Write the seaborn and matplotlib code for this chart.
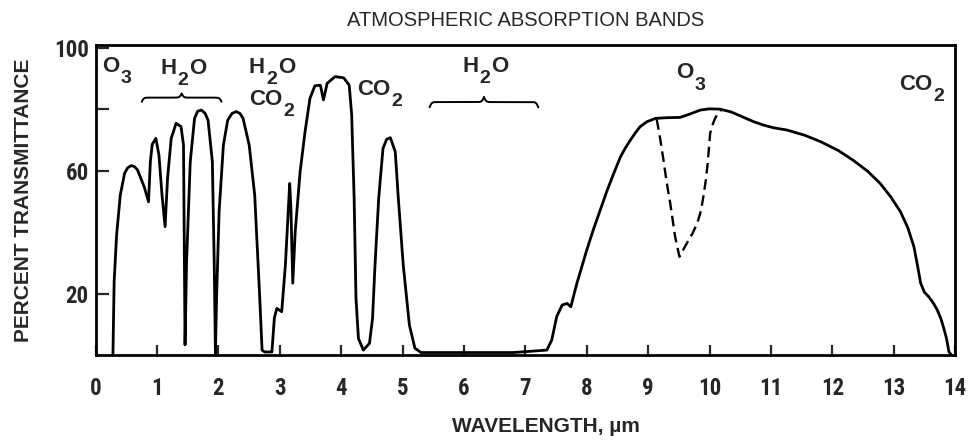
import numpy as np
import matplotlib
matplotlib.use("Agg")
import matplotlib.pyplot as plt
import matplotlib.font_manager as fm
import seaborn as sns

# Atmospheric transmittance spectrum (wavelength in micrometres, percent transmittance)
wavelength_um = [
    0.28, 0.30, 0.34, 0.40, 0.47, 0.52, 0.575, 0.63, 0.68, 0.79, 0.86,
    0.89, 0.92, 0.98, 1.03, 1.08, 1.13,
    1.17, 1.23, 1.31, 1.39, 1.43, 1.44, 1.455,
    1.48, 1.54, 1.61, 1.66, 1.72, 1.78, 1.83, 1.90, 1.93, 1.95,
    1.97, 2.01, 2.08, 2.15, 2.22, 2.29, 2.35, 2.40, 2.50, 2.59, 2.67, 2.71,
    2.75, 2.87, 2.91, 2.95, 3.03, 3.09, 3.16, 3.18, 3.21, 3.25, 3.33, 3.41,
    3.49, 3.57, 3.66, 3.71, 3.77, 3.90, 4.04, 4.13, 4.17, 4.21, 4.24, 4.28,
    4.36, 4.46, 4.51, 4.55, 4.61, 4.68, 4.74, 4.80, 4.88, 4.93, 5.01, 5.11, 5.20,
    5.30, 6.00, 6.80, 7.35, 7.43, 7.51, 7.60, 7.68, 7.74, 7.84, 8.00, 8.11,
    8.22, 8.33, 8.44, 8.55, 8.63, 8.71, 8.80, 8.87, 8.98, 9.12, 9.30, 9.52,
    9.68, 9.85, 10.00, 10.17, 10.35, 10.56, 10.72, 10.88, 11.05, 11.26, 11.55,
    11.81, 12.10, 12.35, 12.58, 12.78, 12.95, 13.11, 13.23, 13.33, 13.39,
    13.44, 13.50, 13.57, 13.65, 13.71, 13.77, 13.81, 13.86, 13.90, 13.94,
]
transmittance_pct = [
    0.0, 23.9, 39.1, 52.1, 59.2, 61.0, 61.7, 61.4, 60.3, 54.8, 49.9,
    63.0, 68.6, 70.6, 65.1, 52.1, 41.8,
    57.6, 70.6, 75.5, 74.4, 68.4, 41.3, 3.3,
    30.4, 63.0, 77.1, 79.4, 79.8, 78.8, 76.5, 63.0, 30.4, 0.5,
    19.5, 46.7, 68.4, 76.5, 78.7, 79.3, 78.7, 77.1, 68.4, 52.1, 19.5, 1.6,
    1.0, 1.0, 12.0, 15.2, 14.1, 29.3, 55.9, 47.8, 23.4, 40.2, 59.7, 72.7,
    83.6, 87.7, 87.9, 83.1, 88.5, 90.7, 90.3, 87.9, 78.2, 51.0, 18.5, 5.4,
    1.6, 3.8, 12.0, 29.3, 51.0, 67.3, 70.3, 70.8, 66.2, 51.0, 29.3, 9.8, 2.2,
    0.8, 0.8, 0.8, 1.6, 4.9, 12.5, 16.3, 16.8, 15.7, 23.4, 34.2, 41.0,
    47.2, 53.5, 59.2, 64.6, 67.5, 70.0, 72.6, 74.4, 76.0, 77.1, 77.3, 77.4,
    78.5, 79.8, 80.2, 80.1, 79.2, 77.4, 76.0, 74.9, 74.0, 73.3, 71.6,
    69.5, 66.6, 63.3, 59.8, 55.9, 51.6, 46.7, 41.5, 35.3, 29.0,
    23.4, 20.5, 19.0, 16.8, 14.7, 11.8, 9.2, 5.5, 1.1, 0.0,
]

# Ozone absorption near 9.6 um (dashed)
ozone_wavelength_um = [9.14, 9.20, 9.25, 9.30, 9.36, 9.44, 9.51, 9.57, 9.63, 9.72,
                       9.80, 9.86, 9.90, 9.94, 9.97, 10.01, 10.05, 10.09, 10.14, 10.20]
ozone_transmittance_pct = [76.8, 70.0, 63.5, 56.5, 49.4, 38.5, 32.0, 34.2, 36.4, 39.5,
                           42.9, 47.0, 51.6, 57.0, 62.4, 72.2, 75.0, 77.1, 78.8, 80.0]

# Absorber labels (digits are set as subscripts)
band_labels = ["O3", "H2O", "H2O", "CO2", "CO2", "H2O", "O3", "CO2"]
band_label_x = [0.34, 1.43, 2.87, 2.86, 4.62, 6.35, 9.70, 13.46]
band_label_y = [92.2, 91.7, 92.0, 81.4, 84.7, 92.3, 90.1, 86.3]

# Water-vapour bands marked with braces: (start, end) in um
water_band_start = [0.75, 5.44]
water_band_end = [2.05, 7.21]
water_brace_base = [82.5, 80.7]
water_brace_tip = [85.2, 84.1]

x_ticks = list(range(0, 15))
y_ticks = [20, 60, 80, 100]
y_tick_labels = ["20", "60", "", "100"]

sns.set_style("white")
available = {f.name for f in fm.fontManager.ttflist}
narrow = next((f for f in ["Liberation Sans Narrow", "Roboto Condensed"] if f in available),
              "Liberation Sans")
plt.rcParams["font.family"] = ["Liberation Sans", "DejaVu Sans"]
plt.rcParams["font.weight"] = "bold"

fig = plt.figure(figsize=(9.68, 4.41), dpi=100)
ax = fig.add_axes([0.0989, 0.195, 0.8877, 0.703])

sns.lineplot(x=wavelength_um, y=transmittance_pct, sort=False, estimator=None,
             color="black", linewidth=2.0, ax=ax)
sns.lineplot(x=ozone_wavelength_um, y=ozone_transmittance_pct, sort=False, estimator=None,
             color="black", linewidth=1.7, ax=ax)
ax.lines[-1].set_linestyle((0, (4.5, 2.4)))

ax.set_xlim(0, 14)
ax.set_ylim(0, 101)

for sp in ax.spines.values():
    sp.set_visible(True)
    sp.set_linewidth(2.0)
    sp.set_color("black")

ax.set_xticks(x_ticks)
ax.set_xticklabels([str(t) for t in x_ticks])
ax.set_yticks(y_ticks)
ax.set_yticklabels(y_tick_labels)
ax.tick_params(axis="x", direction="in", length=7.5, width=1.6, pad=16,
               labelsize=16.5, bottom=True, top=False)
ax.tick_params(axis="y", direction="in", length=9.5, width=1.6, pad=5,
               labelsize=16.5, left=True, right=False)
for lbl in ax.get_xticklabels() + ax.get_yticklabels():
    lbl.set_family([narrow, "DejaVu Sans"])
    lbl.set_fontweight("bold")

ax.set_xlabel("WAVELENGTH, µm", fontsize=15, fontweight="bold")
ax.xaxis.set_label_coords(0.524, -0.199)
ax.set_ylabel("PERCENT TRANSMITTANCE", fontsize=15, fontweight="bold")
ax.yaxis.set_label_coords(-0.0726, 0.5)

ax.set_title("ATMOSPHERIC ABSORPTION BANDS", fontsize=14.5, fontweight="normal",
             pad=14)


def chem_label(ax, x, y, formula, size=16, sub_size=14, sub_drop=8.0, gap=0.8):
    """Write a chemical formula centred at (x, y) with digits lowered as subscripts."""
    renderer = ax.figure.canvas.get_renderer()
    parts = []
    for ch in formula:
        is_sub = ch.isdigit()
        if parts and parts[-1][1] == is_sub:
            parts[-1] = (parts[-1][0] + ch, is_sub)
        else:
            parts.append((ch, is_sub))
    pieces = []
    for s, is_sub in parts:
        t = ax.annotate(s, xy=(x, y), xytext=(0, 0), textcoords="offset points",
                        ha="left", va="baseline", fontweight="bold",
                        fontsize=sub_size if is_sub else size)
        w = t.get_window_extent(renderer).width * 72.0 / ax.figure.dpi
        pieces.append((t, w, is_sub))
    total = sum(w for _, w, _ in pieces) + gap * (len(pieces) - 1)
    cursor = -total / 2.0
    for t, w, is_sub in pieces:
        t.xyann = (cursor, -sub_drop if is_sub else 0.0)
        cursor += w + gap


for text, x, y in zip(band_labels, band_label_x, band_label_y):
    chem_label(ax, x, y, text)


def draw_brace(ax, x0, x1, base, tip, beta=60.0):
    xs = np.linspace(x0, x1, 301)
    half = xs[:151]
    shape = (1.0 / (1.0 + np.exp(-beta * (half - half[0])))
             + 1.0 / (1.0 + np.exp(-beta * (half - half[-1]))))
    shape = np.concatenate([shape, shape[-2::-1]])
    ys = base + (tip - base) * (shape - 0.5)
    ax.plot(xs, ys, color="black", linewidth=1.4)


for x0, x1, b, t in zip(water_band_start, water_band_end, water_brace_base, water_brace_tip):
    draw_brace(ax, x0, x1, b, t)

fig.savefig("out.png", dpi=100, facecolor="white")
